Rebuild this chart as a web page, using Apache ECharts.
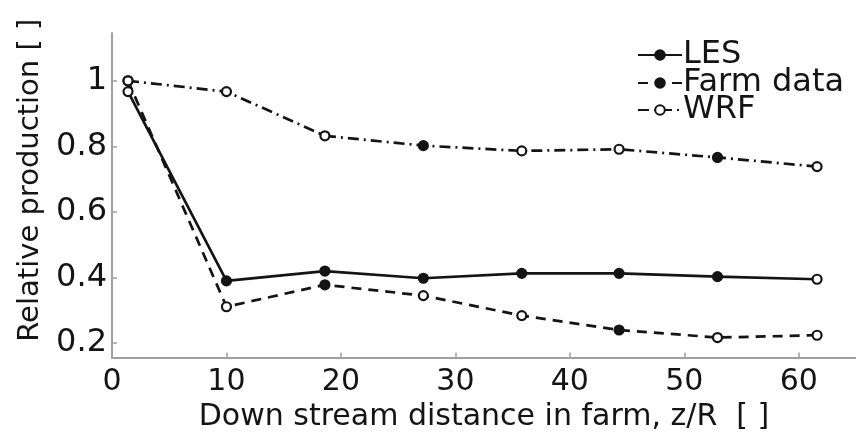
<!DOCTYPE html>
<html>
<head>
<meta charset="utf-8">
<script src="https://cdn.jsdelivr.net/npm/echarts@6/dist/echarts.min.js"></script>
<style>
  html, body { margin: 0; padding: 0; background: #fff; }
  #chart { width: 856px; height: 439px; }
</style>
</head>
<body>
<div id="chart"></div>
<script>
// Downstream turbine position (z/R) and relative production per row
const distance = [1.4, 10, 18.6, 27.2, 35.8, 44.3, 52.9, 61.6];
const les      = [0.967, 0.389, 0.419, 0.397, 0.412, 0.412, 0.402, 0.394];
const farmData = [1.0, 0.31, 0.377, 0.344, 0.283, 0.239, 0.216, 0.223];
const wrf      = [1.0, 0.967, 0.832, 0.802, 0.786, 0.791, 0.766, 0.738];
const yTicks   = [0.2, 0.4, 0.6, 0.8, 1];
const xTicks   = [0, 10, 20, 30, 40, 50, 60];

const INK = '#141414';
const AXIS = '#a0a0a0';
const FONT = 'DejaVu Sans';

// markers drawn with the alternate fill (hollow or solid) per series
function points(values, altIdx, altFill) {
  return values.map((v, i) => {
    const p = { value: [distance[i], v] };
    if (altIdx.includes(i)) p.itemStyle = { color: altFill };
    return p;
  });
}

function lineSeries(name, values, dash, baseFill, altIdx, altFill) {
  return {
    name: name,
    type: 'line',
    data: points(values, altIdx, altFill),
    symbol: 'circle',
    symbolSize: 9,
    showAllSymbol: true,
    lineStyle: { color: INK, width: 2.7, type: dash },
    itemStyle: { color: baseFill, borderColor: INK, borderWidth: 2.2 },
    emphasis: { disabled: true },
    animation: false,
    z: 3
  };
}

function legendRow(name, top) {
  return {
    data: [name],
    left: 637,
    top: top,
    orient: 'vertical',
    padding: 0,
    itemWidth: 44,
    itemHeight: 12,
    itemGap: 0,
    selectedMode: false,
    textStyle: { fontFamily: FONT, fontSize: 32, color: INK, lineHeight: 32, padding: [0, 0, 0, -4] }
  };
}

const chart = echarts.init(document.getElementById('chart'), null, { renderer: 'canvas' });
chart.setOption({
  backgroundColor: '#fff',
  animation: false,
  grid: { left: 112, right: 0, top: 33, bottom: 81.5, containLabel: false },
  legend: [
    legendRow('LES', 39),
    legendRow('Farm data', 67),
    legendRow('WRF', 94)
  ],
  xAxis: {
    type: 'value',
    min: 0,
    max: 65,
    name: 'Down stream distance in farm, z/R  [ ]',
    nameLocation: 'middle',
    nameGap: 44,
    nameTextStyle: { fontFamily: FONT, fontSize: 30, color: INK },
    axisLine: { show: true, lineStyle: { color: AXIS, width: 2 } },
    axisTick: { show: true, inside: true, length: 5, customValues: xTicks, lineStyle: { color: AXIS, width: 1.5 } },
    axisLabel: { customValues: xTicks, fontFamily: FONT, fontSize: 30, color: INK, margin: 10 },
    splitLine: { show: false }
  },
  yAxis: {
    type: 'value',
    min: 0.155,
    max: 1.146,
    name: 'Relative production [ ]',
    nameLocation: 'middle',
    nameGap: 64,
    nameTextStyle: { fontFamily: FONT, fontSize: 29, color: INK, padding: [0, 0, 0, 30] },
    axisLine: { show: true, lineStyle: { color: AXIS, width: 2 } },
    axisTick: { show: true, inside: true, length: 5, customValues: yTicks, lineStyle: { color: AXIS, width: 1.5 } },
    axisLabel: { customValues: yTicks, fontFamily: FONT, fontSize: 32, color: INK, margin: 5,
                 formatter: v => String(Math.round(v * 10) / 10) },
    splitLine: { show: false }
  },
  series: [
    lineSeries('LES', les, 'solid', INK, [0, 7], '#fff'),
    lineSeries('Farm data', farmData, [10, 7], INK, [1, 3, 4, 6, 7], '#fff'),
    lineSeries('WRF', wrf, [11, 5, 2, 5], '#fff', [3, 6], INK)
  ]
});
</script>
</body>
</html>
